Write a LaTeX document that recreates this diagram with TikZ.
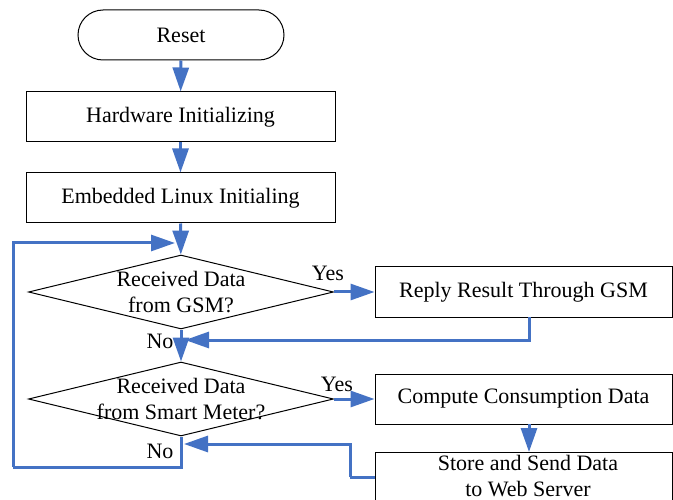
\documentclass[tikz,border=0pt]{standalone}
\usepackage{fontspec}
\setmainfont{Liberation Serif}
\usetikzlibrary{shapes.geometric,arrows.meta}
\definecolor{flowblue}{RGB}{68,114,196}
\tikzset{
  box/.style={draw=black,line width=1pt,rectangle,minimum width=309pt,minimum height=50pt,inner sep=0pt},
  sidebox/.style={draw=black,line width=1pt,rectangle,minimum width=297pt,minimum height=50pt,inner sep=0pt},
  term/.style={draw=black,line width=1pt,rectangle,rounded corners=25pt,minimum width=206pt,minimum height=50pt,inner sep=0pt},
  decision/.style={draw=black,line width=1pt,diamond,aspect=4.1,minimum width=305pt,minimum height=74pt,inner sep=0pt},
  txt/.style={align=center,inner sep=0pt},
  lbl/.style={inner sep=0pt},
  flow/.style={draw=flowblue,line width=3pt,-{Triangle[length=24pt,width=16pt]}},
  plain/.style={draw=flowblue,line width=3pt}
}
\begin{document}
\begin{tikzpicture}[x=1pt,y=-1pt,font=\fontsize{22}{26}\selectfont]
\useasboundingbox (0,0) rectangle (673,500);
\clip (0,0) rectangle (673,500);
\node[term] (reset) at (181,35) {Reset};
\node[box] (hw) at (180.5,117) {Hardware Initializing};
\node[box] (emb) at (180.5,198) {Embedded Linux Initialing};
\node[decision] (d1) at (181,292) {};
\node[txt] (d1t) at (181,292) {Received Data\\from GSM?};
\node[decision] (d2) at (181,399) {};
\node[txt] (d2t) at (181,399) {Received Data\\from Smart Meter?};
\node[sidebox] (reply) at (523.5,292) {Reply Result Through GSM};
\node[sidebox] (comp) at (523.5,399) {Compute Consumption Data};
\node[sidebox] (store) at (523.5,477) {};
\node[txt] (storet) at (528,476) {Store and Send Data\\to Web Server};
\node[lbl] (yes1) at (328,273) {Yes};
\node[lbl] (yes2) at (337,384) {Yes};
\node[lbl] (no1) at (160,341) {No};
\node[lbl] (no2) at (160,451) {No};
\coordinate (m0) at (175,243);
\coordinate (m1) at (185,340);
\coordinate (m2) at (184,444);
\coordinate (lp) at (13,467);
\coordinate (rp) at (529,317);
\coordinate (cp) at (529,424);
\coordinate (sp) at (529,452);
\coordinate (kp) at (350,477);
\draw[flow] (reset) -- (hw);
\draw[flow] (hw) -- (emb);
\draw[flow] (emb) -- (d1);
\draw[flow] (d1.east) -- (reply.west);
\draw[flow] (d1.south) -- (d2.north);
\draw[flow] (d2.east) -- (comp.west);
\draw[flow] (rp) |- (m1);
\draw[flow] (cp) -- (sp);
\draw[plain] (store.west) -- (kp);
\draw[flow] (kp) |- (m2);
\draw[plain] (d2.south) |- (lp);
\draw[flow] (lp) |- (m0);
\end{tikzpicture}
\end{document}
